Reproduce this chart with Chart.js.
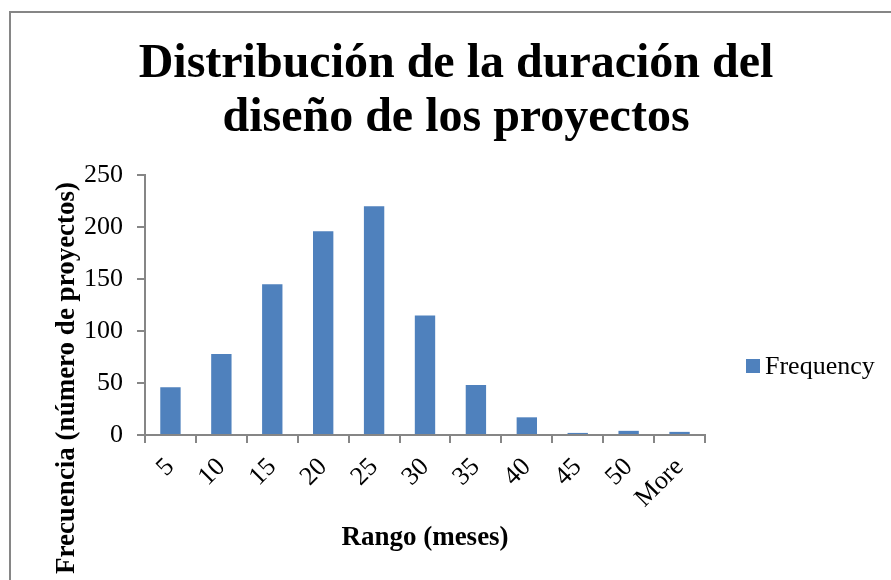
<!DOCTYPE html>
<html>
<head>
<meta charset="utf-8">
<script src="https://cdn.jsdelivr.net/npm/chart.js@4.4.3/dist/chart.umd.min.js"></script>
<style>
  html, body { margin: 0; padding: 0; background: #fff; }
  canvas { display: block; }
</style>
</head>
<body>
<canvas id="chart" width="891" height="580"></canvas>
<script>
// Chart data
const categories = ['5', '10', '15', '20', '25', '30', '35', '40', '45', '50', 'More'];
const frequency = [46, 78, 145, 196, 220, 115, 48, 17, 2, 4, 3];
const yMax = 250;
const yStep = 50;

const titleLines = ['Distribución de la duración del', 'diseño de los proyectos'];
const xTitle = 'Rango (meses)';
const yTitle = 'Frecuencia (número de proyectos)';
const seriesName = 'Frequency';

const SERIF = '"Liberation Serif", "Times New Roman", serif';
const AXIS_GRAY = '#868686';
const BAR_BLUE = '#4F81BD';

// draws frame, titles and legend the way the spreadsheet placed them
const decorations = {
  id: 'decorations',
  beforeDraw(chart) {
    const ctx = chart.ctx;
    ctx.save();
    ctx.fillStyle = '#fff';
    ctx.fillRect(0, 0, chart.width, chart.height);
    ctx.restore();
  },
  afterDraw(chart) {
    const ctx = chart.ctx;
    ctx.save();

    // outer frame (only top/left visible)
    ctx.strokeStyle = AXIS_GRAY;
    ctx.lineWidth = 2;
    ctx.beginPath();
    ctx.moveTo(10, chart.height + 5);
    ctx.lineTo(10, 12);
    ctx.lineTo(chart.width + 5, 12);
    ctx.stroke();

    ctx.fillStyle = '#000';

    // main title
    ctx.font = 'bold 48px ' + SERIF;
    ctx.textAlign = 'center';
    ctx.textBaseline = 'alphabetic';
    ctx.fillText(titleLines[0], 456, 77);
    ctx.fillText(titleLines[1], 456, 131);

    // x axis title
    ctx.font = 'bold 27px ' + SERIF;
    ctx.fillText(xTitle, 425, 545);

    // y axis title
    ctx.save();
    ctx.translate(74, 378);
    ctx.rotate(-Math.PI / 2);
    ctx.fillText(yTitle, 0, 0);
    ctx.restore();

    // legend
    ctx.fillStyle = chart.data.datasets[0].backgroundColor;
    ctx.fillRect(746, 359, 14, 14);
    ctx.fillStyle = '#000';
    ctx.font = '26px ' + SERIF;
    ctx.textAlign = 'left';
    ctx.fillText(chart.data.datasets[0].label, 765, 374);

    ctx.restore();
  }
};

new Chart(document.getElementById('chart'), {
  type: 'bar',
  data: {
    labels: categories,
    datasets: [{
      label: seriesName,
      data: frequency,
      backgroundColor: BAR_BLUE,
      borderWidth: 0,
      categoryPercentage: 1,
      barPercentage: 0.4
    }]
  },
  options: {
    responsive: false,
    animation: false,
    devicePixelRatio: 1,
    layout: { padding: { left: 0, top: 175, right: 186, bottom: 0 } },
    plugins: {
      legend: { display: false },
      title: { display: false },
      tooltip: { enabled: false }
    },
    scales: {
      x: {
        offset: true,
        grid: {
          offset: true,
          drawOnChartArea: false,
          tickLength: 8,
          color: AXIS_GRAY,
          lineWidth: 2
        },
        border: { display: true, color: AXIS_GRAY, width: 2 },
        ticks: {
          color: '#000',
          font: { family: SERIF, size: 26 },
          minRotation: 45,
          maxRotation: 45,
          padding: 9,
          autoSkip: false
        },
        afterFit(s) { s.height = 145; }
      },
      y: {
        min: 0,
        max: yMax,
        grid: {
          drawOnChartArea: false,
          tickLength: 8,
          color: AXIS_GRAY,
          lineWidth: 2
        },
        border: { display: true, color: AXIS_GRAY, width: 2 },
        ticks: {
          stepSize: yStep,
          color: '#000',
          font: { family: SERIF, size: 26 },
          padding: 14
        },
        afterFit(s) { s.width = 145; }
      }
    }
  },
  plugins: [decorations]
});
</script>
</body>
</html>
